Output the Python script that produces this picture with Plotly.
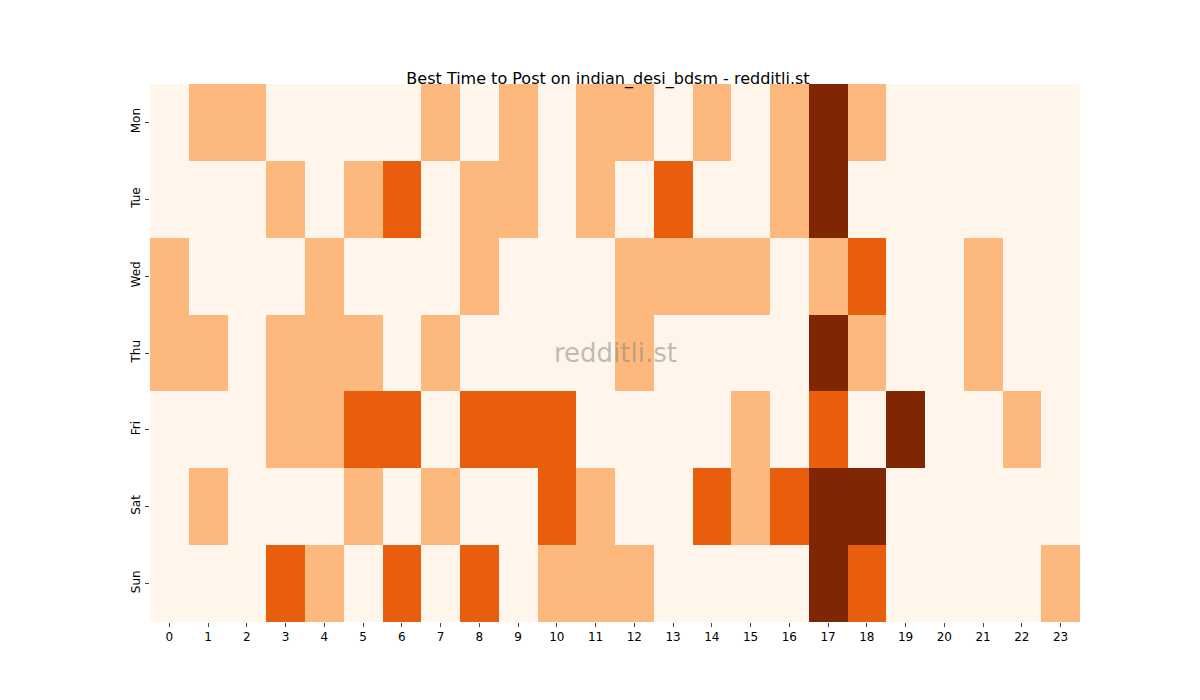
import plotly.graph_objects as go

days = ["Mon", "Tue", "Wed", "Thu", "Fri", "Sat", "Sun"]
hours = [str(h) for h in range(24)]
mon = [0,1,1,0,0,0,0,1,0,1,0,1,1,0,1,0,1,3,1,0,0,0,0,0]
tue = [0,0,0,1,0,1,2,0,1,1,0,1,0,2,0,0,1,3,0,0,0,0,0,0]
wed = [1,0,0,0,1,0,0,0,1,0,0,0,1,1,1,1,0,1,2,0,0,1,0,0]
thu = [1,1,0,1,1,1,0,1,0,0,0,0,1,0,0,0,0,3,1,0,0,1,0,0]
fri = [0,0,0,1,1,2,2,0,2,2,2,0,0,0,0,1,0,2,0,3,0,0,1,0]
sat = [0,1,0,0,0,1,0,1,0,0,2,1,0,0,2,1,2,3,3,0,0,0,0,0]
sun = [0,0,0,2,1,0,2,0,2,0,1,1,1,0,0,0,0,3,2,0,0,0,0,1]
z = [mon, tue, wed, thu, fri, sat, sun]

cs = [[0,"#fff5eb"],[0.25,"#fff5eb"],[0.25,"#fdb97d"],[0.5,"#fdb97d"],
      [0.5,"#e95e0d"],[0.75,"#e95e0d"],[0.75,"#7f2704"],[1,"#7f2704"]]

fig = go.Figure(go.Heatmap(z=z, x=hours, y=days, colorscale=cs, zmin=-0.5, zmax=3.5,
                           showscale=False, xgap=0, ygap=0))
fig.update_layout(
    width=1200, height=700, plot_bgcolor="white", paper_bgcolor="white",
    margin=dict(l=142, r=128, t=76, b=86),
    title=dict(text="Best Time to Post on indian_desi_bdsm - redditli.st", x=0.5, y=0.9,
               xanchor="center", yanchor="middle",
               font=dict(size=16, color="black", family="DejaVu Sans")),
    font=dict(family="DejaVu Sans", size=12, color="black"),
    xaxis=dict(type="category", ticks="outside", ticklen=4, showgrid=False),
    yaxis=dict(type="category", autorange="reversed", ticks="outside", ticklen=4,
               tickangle=-90, showgrid=False),
    annotations=[dict(text="redditli.st", x=0.5, y=0.5, xref="paper", yref="paper",
                      showarrow=False, font=dict(size=26, color="rgba(128,128,128,0.5)"))],
)
fig.write_html("out.html")
